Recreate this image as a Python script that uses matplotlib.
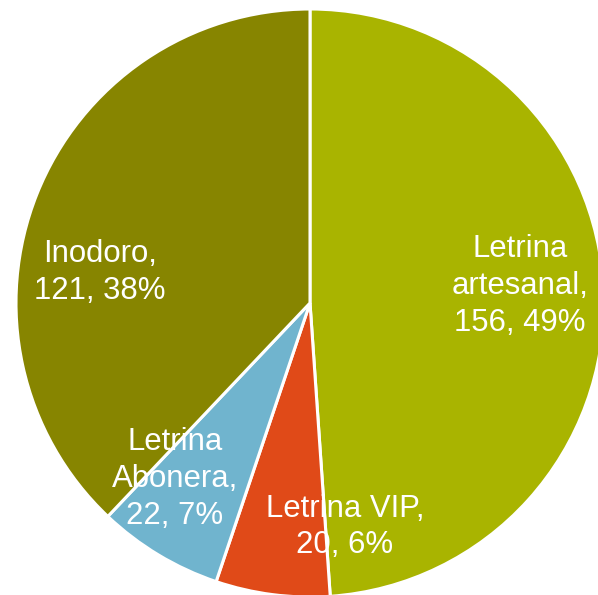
import matplotlib.pyplot as plt

# datos
categorias = ['Letrina\nartesanal,', 'Letrina VIP,', 'Letrina\nAbonera,', 'Inodoro,']
valores = [156, 20, 22, 121]
colores = ['#A9B400', '#E04A18', '#70B4CE', '#878500']

# posiciones de etiquetas (coordenadas del pastel, radio = 1)
pos_etiquetas = [(0.714, 0.058), (0.119, -0.762), (-0.459, -0.598), (-0.714, 0.104)]

fig = plt.figure(figsize=(5.98, 5.95), dpi=100)
ax = fig.add_axes([0, 0, 1, 1])

cx, cy, r = 310, 303, 294
ax.pie(valores, colors=colores, startangle=90, counterclock=False, radius=1,
       wedgeprops=dict(edgecolor='white', linewidth=2.2))

total = sum(valores)
for cat, v, (x, y) in zip(categorias, valores, pos_etiquetas):
    texto = f"{cat}\n{v}, {round(v / total * 100)}%"
    ax.text(x, y, texto, ha='center', va='center', color='white',
            fontsize=22.4, family='Liberation Sans', linespacing=1.3)

ax.set_xlim(-cx / r, (598 - cx) / r)
ax.set_ylim(-(595 - cy) / r, cy / r)
ax.set_aspect('auto')
ax.axis('off')

plt.savefig('out.png', dpi=100)
